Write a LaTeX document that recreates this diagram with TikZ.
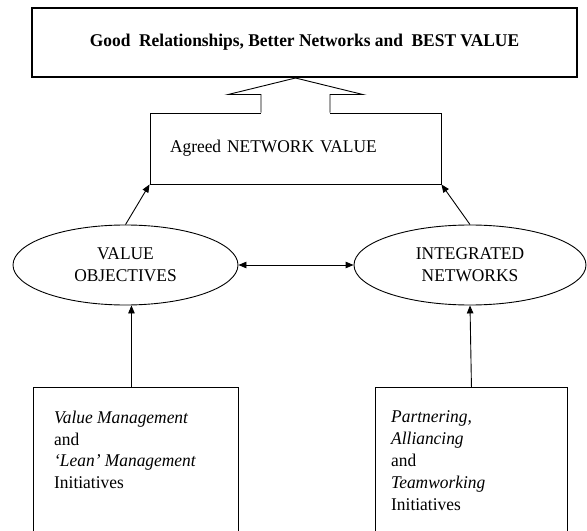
\documentclass[tikz,border=0pt]{standalone}
\usepackage{fontspec}
\setmainfont[FakeStretch=0.97]{Liberation Serif}
\usetikzlibrary{shapes.geometric,arrows.meta,calc}
\begin{document}
\begin{tikzpicture}[x=1bp,y=-1bp,
  txt/.style={font=\fontsize{18}{22}\selectfont},
  box/.style={draw,line width=0.9bp,inner sep=0},
  oval/.style={draw,ellipse,line width=0.9bp,minimum width=225bp,minimum height=80bp,inner sep=0,align=center,font=\fontsize{18}{22}\selectfont},
  arr/.style={line width=0.9bp,-{Triangle[length=8bp,width=6.5bp]}},
  darr/.style={line width=0.9bp,{Triangle[length=8bp,width=6.5bp]}-{Triangle[length=8bp,width=6.5bp]}}]
\useasboundingbox (0,0) rectangle (587,531);
\clip (0,0) rectangle (587,531);
\fill[white] (0,0) rectangle (587,531);
\node[draw,line width=2bp,minimum width=545bp,minimum height=69bp,inner sep=0,font=\fontsize{18}{21}\selectfont\bfseries] (top) at (304.5,42.5) {Good\ \ Relationships, Better Networks and\ \ BEST VALUE};
\node[box,minimum width=291bp,minimum height=71bp,text width=251bp,align=left,txt] (agreed) at (295.5,148.5) {Agreed NETWORK VALUE};
\fill[white] ($(agreed.north)+(-34.5,-18)$) rectangle ($(agreed.north)+(34.5,1.5)$);
\draw[line width=0.9bp] ($(agreed.north)+(-34.5,0)$) -- ++(0,-18) -- ++(-33,0) -- (agreed.north |- top.south) -- ($(agreed.north)+(67.5,-18)$) -- ++(-33,0) -- ++(0,18);
\node[oval] (vo) at (125.5,265) {VALUE\\OBJECTIVES};
\node[oval,minimum width=232bp] (in) at (470,265) {INTEGRATED\\NETWORKS};
\node[box,minimum width=205bp,minimum height=180bp,anchor=north west] (vmbox) at (33,387) {};
\node[box,minimum width=192bp,minimum height=180bp,anchor=north west] (pabox) at (375,387) {};
\node[txt,anchor=north west,inner sep=0,align=left] (vmtext) at (54,410.5) {\textit{Value Management}\\and\\\textit{‘Lean’ Management}\\Initiatives};
\node[txt,anchor=north west,inner sep=0,align=left] (patext) at (391,410.5) {\textit{Partnering,}\\\textit{Alliancing}\\and\\\textit{Teamworking}\\Initiatives};
\draw[arr] ([xshift=-4.5bp]vmbox.north) coordinate (a1) -- (a1 |- vo.south);
\draw[arr] (pabox.north) -- (in.south);
\draw[arr] (vo.north) -- (agreed.south west);
\draw[arr] (in.north) -- (agreed.south east);
\draw[darr] (vo.east) -- (in.west);
\end{tikzpicture}
\end{document}
